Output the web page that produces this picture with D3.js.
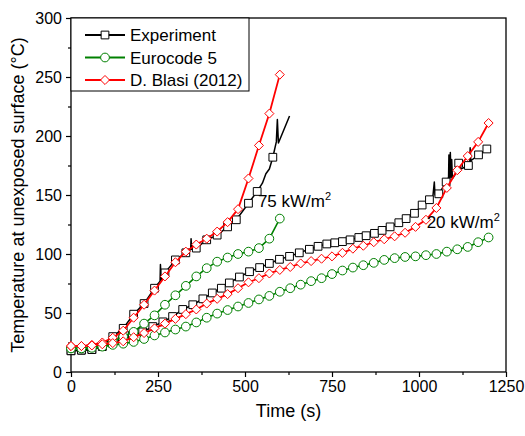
<!DOCTYPE html>
<html>
<head>
<meta charset="utf-8">
<script src="https://cdn.jsdelivr.net/npm/d3@7"></script>
<style>
  body { margin: 0; background: #fff; }
  text { font-family: "Liberation Sans", Arial, sans-serif; }
</style>
</head>
<body>
<div id="chart"></div>
<script>
// 75 kW/m2 series (model curves every 30 s)
const t75 = [0, 30, 60, 90, 120, 150, 180, 210, 240, 270, 300, 330, 360, 390, 420, 450, 480, 510, 540, 570, 600];
const blasi75 = [22, 22, 23, 25, 29, 35, 46, 57, 69, 81, 93, 102, 108, 113, 119, 127, 138, 164, 192, 219, 252];
const euro75 = [20, 20, 21, 23, 26, 30, 34, 41, 48, 57, 65, 73, 81, 88, 93.5, 97, 100, 102, 105, 113, 130];

// 20 kW/m2 series
const t20 = [0, 30, 60, 90, 120, 150, 180, 210, 240, 270, 300, 330, 360, 390, 420, 450, 480, 510, 540, 570, 600,
             630, 660, 690, 720, 750, 780, 810, 840, 870, 900, 930, 960, 990, 1020, 1050, 1080, 1110, 1140, 1170, 1200];
const blasi20 = [22, 22, 22.5, 23.5, 24.5, 26, 29.5, 33, 37, 41, 45, 49, 53, 58, 62, 66, 71, 76, 79.5, 83.5, 86.5,
                 89, 92, 94, 96, 98, 101, 104.5, 107, 110, 112.5, 115, 118, 123, 129, 139, 156, 171, 183, 195, 211];
const euro20 = [20, 20, 20.5, 21.5, 23, 24, 25.5, 28, 31, 33.5, 36, 38.5, 42, 46, 49.5, 52.5, 55.5, 58.5, 61.5, 64.5, 68,
                71, 74, 77, 79.5, 83, 86, 88.5, 90.5, 92.5, 95, 96.5, 97.5, 98, 99, 100, 102, 104, 106, 110, 114];

// Experiment: marker samples
const expT75 = [0, 30, 60, 90, 120, 150, 180, 210, 240, 270, 300, 330, 360, 390, 420, 450, 475, 510, 535, 580];
const exp75 = [18, 18.5, 19, 22, 30, 37, 49, 58, 71, 84, 95, 101, 105, 112, 116, 123, 129, 143, 153, 182];
const expT20 = [0, 30, 60, 90, 118, 148, 176, 206, 235, 264, 292, 321, 350, 379, 406, 432, 455, 484, 513, 542,
                570, 599, 628, 656, 685, 710, 735, 758, 780, 802, 827, 848, 872, 894, 917, 942, 963, 987, 1009, 1030,
                1057, 1078, 1114, 1142, 1171, 1195];
const exp20 = [18, 18.5, 19, 21.5, 24.5, 27.5, 31, 34, 38.5, 42.5, 47, 53, 57, 62, 67, 71, 75.5, 80.5, 85, 88.5,
               92, 95.5, 98, 101, 104, 106.5, 108.5, 109.5, 110.5, 112, 114, 115.5, 117.5, 120, 123, 126.5, 130, 134.5, 141.5, 146,
               151, 161, 177, 175, 184, 189];

// Experiment: extra raw readings (spikes) between markers
const expSpikes75 = [[256, 77], [257, 91], [259, 78], [344, 104], [345, 113], [347, 104],
                     [550, 160], [560, 168], [570, 172], [590, 195], [593, 214], [596, 194], [628, 217]];
const expSpikes20 = [[1040, 149], [1044, 161], [1046, 150], [1085, 165], [1086, 184], [1088, 163], [1090, 186],
                     [1092, 165], [1094, 180], [1096, 164], [1105, 168], [1120, 172], [1146, 178], [1147, 190], [1149, 179]];

const xMajor = [0, 250, 500, 750, 1000, 1250];
const xMinor = [125, 375, 625, 875, 1125];
const yMajor = [0, 50, 100, 150, 200, 250, 300];
const yMinor = [25, 75, 125, 175, 225, 275];

const legendNames = ["Experiment", "Eurocode 5", "D. Blasi (2012)"];
const colors = { exp: "#000000", euro: "#008000", blasi: "#ff0000" };

const width = 525, height = 436;
const svg = d3.select("#chart").append("svg")
    .attr("width", width).attr("height", height);

const x = d3.scaleLinear().domain([0, 1250]).range([71, 506]);
const y = d3.scaleLinear().domain([0, 300]).range([372, 18]);

// axes
const gx = svg.append("g").attr("transform", `translate(0,${y(0)})`)
    .call(d3.axisBottom(x).tickValues(xMajor).tickSize(5).tickSizeOuter(0).tickPadding(4).tickFormat(d3.format("d")));
const gxm = svg.append("g").attr("transform", `translate(0,${y(0)})`)
    .call(d3.axisBottom(x).tickValues(xMinor).tickSize(3).tickSizeOuter(0).tickFormat(""));
const gy = svg.append("g").attr("transform", `translate(${x(0)},0)`)
    .call(d3.axisLeft(y).tickValues(yMajor).tickSize(5).tickSizeOuter(0).tickPadding(4).tickFormat(d3.format("d")));
const gym = svg.append("g").attr("transform", `translate(${x(0)},0)`)
    .call(d3.axisLeft(y).tickValues(yMinor).tickSize(3).tickSizeOuter(0).tickFormat(""));
[gx, gxm, gy, gym].forEach(g => {
    g.select(".domain").remove();
    g.selectAll("line").attr("stroke", "#000").attr("stroke-width", 1.2);
    g.selectAll("text").attr("font-size", 16).attr("fill", "#000")
        .attr("font-family", "Liberation Sans, Arial, sans-serif");
});

svg.append("rect")
    .attr("x", x(0)).attr("y", y(300))
    .attr("width", x(1250) - x(0)).attr("height", y(0) - y(300))
    .attr("fill", "none").attr("stroke", "#000").attr("stroke-width", 1.3);

// axis titles
svg.append("text")
    .attr("x", (x(0) + x(1250)) / 2).attr("y", 417)
    .attr("text-anchor", "middle").attr("font-size", 18)
    .text("Time (s)");
svg.append("text")
    .attr("transform", `translate(24,${(y(0) + y(300)) / 2}) rotate(-90)`)
    .attr("text-anchor", "middle").attr("font-size", 18)
    .text("Temperature at unexposed surface (°C)");

const line = d3.line().x(d => x(d[0])).y(d => y(d[1]));

const symbols = {
    square: d3.symbol().type(d3.symbolSquare).size(60),
    circle: d3.symbol().type(d3.symbolCircle).size(60),
    diamond: d3.symbol().type(d3.symbolDiamond2).size(52)
};

function drawSeries(lineData, markData, color, shape, lw) {
    svg.append("path")
        .datum(lineData)
        .attr("d", line)
        .attr("fill", "none").attr("stroke", color).attr("stroke-width", lw)
        .attr("stroke-linejoin", "round");
    svg.append("g").selectAll("path")
        .data(markData)
        .enter().append("path")
        .attr("transform", d => `translate(${x(d[0])},${y(d[1])})`)
        .attr("d", symbols[shape])
        .attr("fill", "#fff").attr("stroke", color).attr("stroke-width", 1);
}

const zip = (ts, vs) => ts.map((t, i) => [t, vs[i]]);
const merge = (a, b) => a.concat(b).sort((p, q) => p[0] - q[0]);

const expMarks75 = zip(expT75, exp75);
const expMarks20 = zip(expT20, exp20);

drawSeries(merge(expMarks75, expSpikes75), expMarks75, colors.exp, "square", 1.5);
drawSeries(merge(expMarks20, expSpikes20), expMarks20, colors.exp, "square", 1.5);
drawSeries(zip(t75, euro75), zip(t75, euro75), colors.euro, "circle", 1.6);
drawSeries(zip(t20, euro20), zip(t20, euro20), colors.euro, "circle", 1.6);
drawSeries(zip(t75, blasi75), zip(t75, blasi75), colors.blasi, "diamond", 1.8);
drawSeries(zip(t20, blasi20), zip(t20, blasi20), colors.blasi, "diamond", 1.8);

// curve labels
function heatLabel(lx, ly, value) {
    const t = svg.append("text").attr("x", lx).attr("y", ly).attr("font-size", 17);
    t.append("tspan").text(value + " kW/m");
    t.append("tspan").attr("font-size", 11).attr("dy", -7).text("2");
}
heatLabel(x(537), y(140), 75);
heatLabel(x(1022), y(122), 20);

// legend
const legend = svg.append("g");
legend.append("rect")
    .attr("x", x(0)).attr("y", y(300))
    .attr("width", 178).attr("height", 73)
    .attr("fill", "#fff").attr("stroke", "#000").attr("stroke-width", 1);
const legendItems = [
    { name: legendNames[0], color: colors.exp, shape: "square" },
    { name: legendNames[1], color: colors.euro, shape: "circle" },
    { name: legendNames[2], color: colors.blasi, shape: "diamond" }
];
legendItems.forEach((d, i) => {
    const ly = 35 + i * 22.5;
    legend.append("line")
        .attr("x1", 85).attr("x2", 125).attr("y1", ly).attr("y2", ly)
        .attr("stroke", d.color).attr("stroke-width", 1.8);
    legend.append("path")
        .attr("transform", `translate(105,${ly})`)
        .attr("d", symbols[d.shape])
        .attr("fill", "#fff").attr("stroke", d.color).attr("stroke-width", 1);
    legend.append("text")
        .attr("x", 130).attr("y", ly).attr("dy", "0.36em")
        .attr("font-size", 17)
        .text(d.name);
});
</script>
</body>
</html>
